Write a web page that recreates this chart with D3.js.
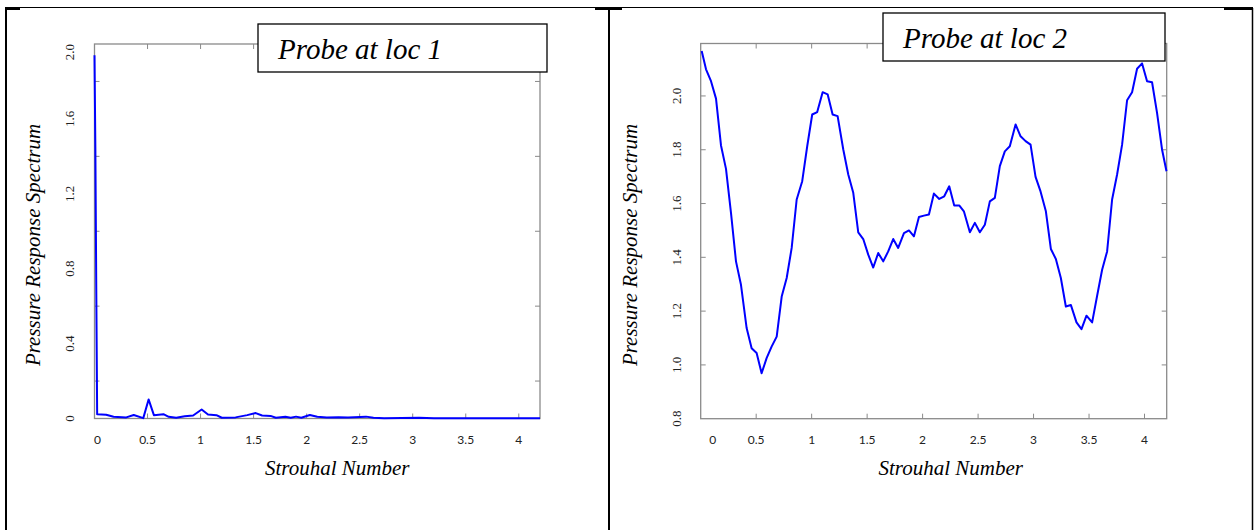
<!DOCTYPE html>
<html><head><meta charset="utf-8">
<script src="https://cdn.jsdelivr.net/npm/d3@7"></script>
<style>body{margin:0;background:#fff}svg{display:block}</style>
</head><body>
<script>
// ---- data ----
const xTickValues = [0, 0.5, 1, 1.5, 2, 2.5, 3, 3.5, 4];
const xTickLabels = ["0", "0.5", "1", "1.5", "2", "2.5", "3", "3.5", "4"];

const leftTitle = "Probe at loc 1";
const leftYLabelValues = [0, 0.4, 0.8, 1.2, 1.6, 2.0];
const leftYLabelTexts = ["0", "0.4", "0.8", "1.2", "1.6", "2.0"];
const leftYTickMarks = [0.2, 0.6, 1.0, 1.4, 1.8];
const leftX = [0, 0.008, 0.016, 0.025, 0.11, 0.18, 0.3, 0.37, 0.46, 0.51, 0.56, 0.65, 0.70, 0.77, 0.85, 0.93, 1.01, 1.07, 1.15, 1.2, 1.33, 1.44, 1.52, 1.58, 1.66, 1.71, 1.80, 1.85, 1.90, 1.95, 2.03, 2.1, 2.19, 2.3, 2.39, 2.56, 2.63, 2.73, 3.06, 3.2, 4.2];
const leftY = [1.94, 1.45, 0.75, 0.023, 0.020, 0.009, 0.006, 0.019, 0.002, 0.102, 0.018, 0.023, 0.009, 0.004, 0.012, 0.016, 0.048, 0.021, 0.018, 0.004, 0.006, 0.018, 0.029, 0.016, 0.014, 0.004, 0.009, 0.004, 0.010, 0.004, 0.019, 0.009, 0.006, 0.007, 0.006, 0.010, 0.004, 0.002, 0.004, 0.002, 0.002];

const rightTitle = "Probe at loc 2";
const rightYLabelValues = [0.8, 1.0, 1.2, 1.4, 1.6, 1.8, 2.0];
const rightYLabelTexts = ["0.8", "1.0", "1.2", "1.4", "1.6", "1.8", "2.0"];
const rightYTickMarks = [1.0, 1.2, 1.4, 1.6, 1.8, 2.0];
const rightX = [0.009, 0.048, 0.093, 0.138, 0.183, 0.228, 0.273, 0.318, 0.363, 0.414, 0.459, 0.504, 0.549, 0.594, 0.639, 0.685, 0.73, 0.775, 0.82, 0.865, 0.915, 0.96, 1.005, 1.05, 1.099, 1.144, 1.189, 1.234, 1.285, 1.33, 1.375, 1.42, 1.465, 1.51, 1.555, 1.6, 1.645, 1.69, 1.735, 1.78, 1.832, 1.877, 1.922, 1.967, 2.012, 2.057, 2.102, 2.15, 2.195, 2.24, 2.285, 2.33, 2.372, 2.426, 2.471, 2.516, 2.561, 2.606, 2.651, 2.696, 2.741, 2.786, 2.838, 2.883, 2.928, 2.973, 3.018, 3.063, 3.111, 3.156, 3.201, 3.246, 3.291, 3.336, 3.387, 3.432, 3.477, 3.528, 3.573, 3.618, 3.663, 3.708, 3.753, 3.798, 3.843, 3.888, 3.933, 3.978, 4.023, 4.068, 4.113, 4.158, 4.198];
const rightY = [2.167, 2.099, 2.055, 1.99, 1.816, 1.729, 1.565, 1.385, 1.298, 1.137, 1.062, 1.044, 0.969, 1.025, 1.068, 1.105, 1.254, 1.323, 1.435, 1.615, 1.683, 1.813, 1.931, 1.94, 2.014, 2.006, 1.931, 1.925, 1.801, 1.708, 1.64, 1.493, 1.468, 1.41, 1.362, 1.416, 1.385, 1.422, 1.468, 1.435, 1.49, 1.5, 1.478, 1.55, 1.555, 1.559, 1.637, 1.617, 1.627, 1.664, 1.593, 1.593, 1.571, 1.493, 1.528, 1.493, 1.521, 1.608, 1.621, 1.739, 1.794, 1.813, 1.894, 1.85, 1.832, 1.819, 1.699, 1.645, 1.571, 1.431, 1.394, 1.323, 1.217, 1.223, 1.158, 1.133, 1.183, 1.158, 1.257, 1.354, 1.422, 1.615, 1.708, 1.819, 1.984, 2.014, 2.101, 2.121, 2.055, 2.051, 1.937, 1.801, 1.72];

const xAxisTitle = "Strouhal Number";
const yAxisTitle = "Pressure Response Spectrum";

// ---- drawing ----
const W = 1254, H = 530;
const svg = d3.select("body").append("svg").attr("width", W).attr("height", H);
const serif = "'Liberation Serif', 'Times New Roman', serif";
const sans = "Lato, 'Liberation Sans', sans-serif";

// table frame
const frame = svg.append("g").attr("stroke", "#000");
frame.append("line").attr("x1", 5).attr("x2", 1253).attr("y1", 7.5).attr("y2", 7.5).attr("stroke-width", 1);
[[5, 20], [595, 622], [1224, 1253]].forEach(([a, b]) =>
  frame.append("line").attr("x1", a).attr("x2", b).attr("y1", 9).attr("y2", 9).attr("stroke-width", 2));
[6, 609, 1252.5].forEach((x, i) =>
  frame.append("line").attr("x1", x).attr("x2", x).attr("y1", 8).attr("y2", H).attr("stroke-width", i === 2 ? 1.5 : 2));

function panel(o) {
  const g = svg.append("g");
  const x = d3.scaleLinear().domain([0, 4.2]).range([o.left, o.right]);
  const y = d3.scaleLinear().domain(o.yDomain).range([o.bottom, o.top]);

  // plot box
  g.append("rect").attr("x", o.left).attr("y", o.top)
    .attr("width", o.right - o.left).attr("height", o.bottom - o.top)
    .attr("fill", "none").attr("stroke", "#8a8a8a").attr("stroke-width", 1.3);

  // tick marks (inward) on all four sides
  const tk = 5;
  const xt = xTickValues.filter(v => v > 0);
  g.selectAll(".tb").data(xt).join("line")
    .attr("x1", d => x(d)).attr("x2", d => x(d))
    .attr("y1", o.bottom).attr("y2", o.bottom - tk).attr("stroke", "#8a8a8a");
  g.selectAll(".tt").data(xt).join("line")
    .attr("x1", d => x(d)).attr("x2", d => x(d))
    .attr("y1", o.top).attr("y2", o.top + tk).attr("stroke", "#8a8a8a");
  g.selectAll(".tl").data(o.yTicks).join("line")
    .attr("x1", o.left).attr("x2", o.left + tk)
    .attr("y1", d => y(d)).attr("y2", d => y(d)).attr("stroke", "#8a8a8a");
  g.selectAll(".tr").data(o.yTicks).join("line")
    .attr("x1", o.right).attr("x2", o.right - tk)
    .attr("y1", d => y(d)).attr("y2", d => y(d)).attr("stroke", "#8a8a8a");

  // x tick labels
  g.selectAll(".xl").data(xTickValues).join("text")
    .attr("x", (d, i) => x(d) + (i === 0 ? o.zeroShift : 0))
    .attr("y", 444)
    .attr("text-anchor", "middle")
    .attr("font-family", sans).attr("font-size", 12).attr("fill", "#222")
    .text((d, i) => xTickLabels[i]);

  // y tick labels (rotated)
  g.selectAll(".yl").data(o.yLabelValues).join("text")
    .attr("transform", d => `translate(${o.yLabelX},${Math.max(y(d), o.top + 8)}) rotate(-90)`)
    .attr("text-anchor", "middle").attr("dominant-baseline", "central")
    .attr("font-family", serif).attr("font-size", 13).attr("fill", "#222")
    .text((d, i) => o.yLabelTexts[i]);

  // series line
  const pts = o.xs.map((v, i) => [v, o.ys[i]]);
  g.append("path").datum(pts)
    .attr("d", d3.line().x(d => x(d[0])).y(d => y(d[1])))
    .attr("fill", "none").attr("stroke", "#0000ff").attr("stroke-width", 2)
    .attr("stroke-linejoin", "round");

  // axis titles
  g.append("text").attr("x", (o.left + o.right) / 2 + o.xTitleShift).attr("y", 475)
    .attr("text-anchor", "middle").attr("font-family", serif).attr("font-style", "italic")
    .attr("font-size", 21).text(xAxisTitle);
  g.append("text").attr("transform", `translate(${o.yTitleX},245) rotate(-90)`)
    .attr("text-anchor", "middle").attr("font-family", serif).attr("font-style", "italic")
    .attr("font-size", 21).text(yAxisTitle);

  // title box
  g.append("rect").attr("x", o.box[0]).attr("y", o.box[1]).attr("width", o.box[2]).attr("height", o.box[3])
    .attr("fill", "#fff").attr("stroke", "#000").attr("stroke-width", 1.3);
  g.append("text").attr("x", o.box[0] + 20).attr("y", o.box[1] + o.box[3] / 2 + 1)
    .attr("dominant-baseline", "central")
    .attr("font-family", serif).attr("font-style", "italic").attr("font-size", 29).text(o.title);
}

panel({
  left: 94.5, right: 540, top: 44, bottom: 418.5, yDomain: [0, 2.0],
  yTicks: leftYTickMarks, yLabelValues: leftYLabelValues, yLabelTexts: leftYLabelTexts,
  yLabelX: 69, zeroShift: 3, xTitleShift: 20, yTitleX: 40,
  xs: leftX, ys: leftY, title: leftTitle, box: [258, 24, 289, 48]
});
panel({
  left: 700.7, right: 1166.7, top: 43.5, bottom: 418.7, yDomain: [0.8, 2.195],
  yTicks: rightYTickMarks, yLabelValues: rightYLabelValues, yLabelTexts: rightYLabelTexts,
  yLabelX: 676, zeroShift: 12, xTitleShift: 17, yTitleX: 637,
  xs: rightX, ys: rightY, title: rightTitle, box: [883, 13, 282, 48]
});
</script>
</body></html>
